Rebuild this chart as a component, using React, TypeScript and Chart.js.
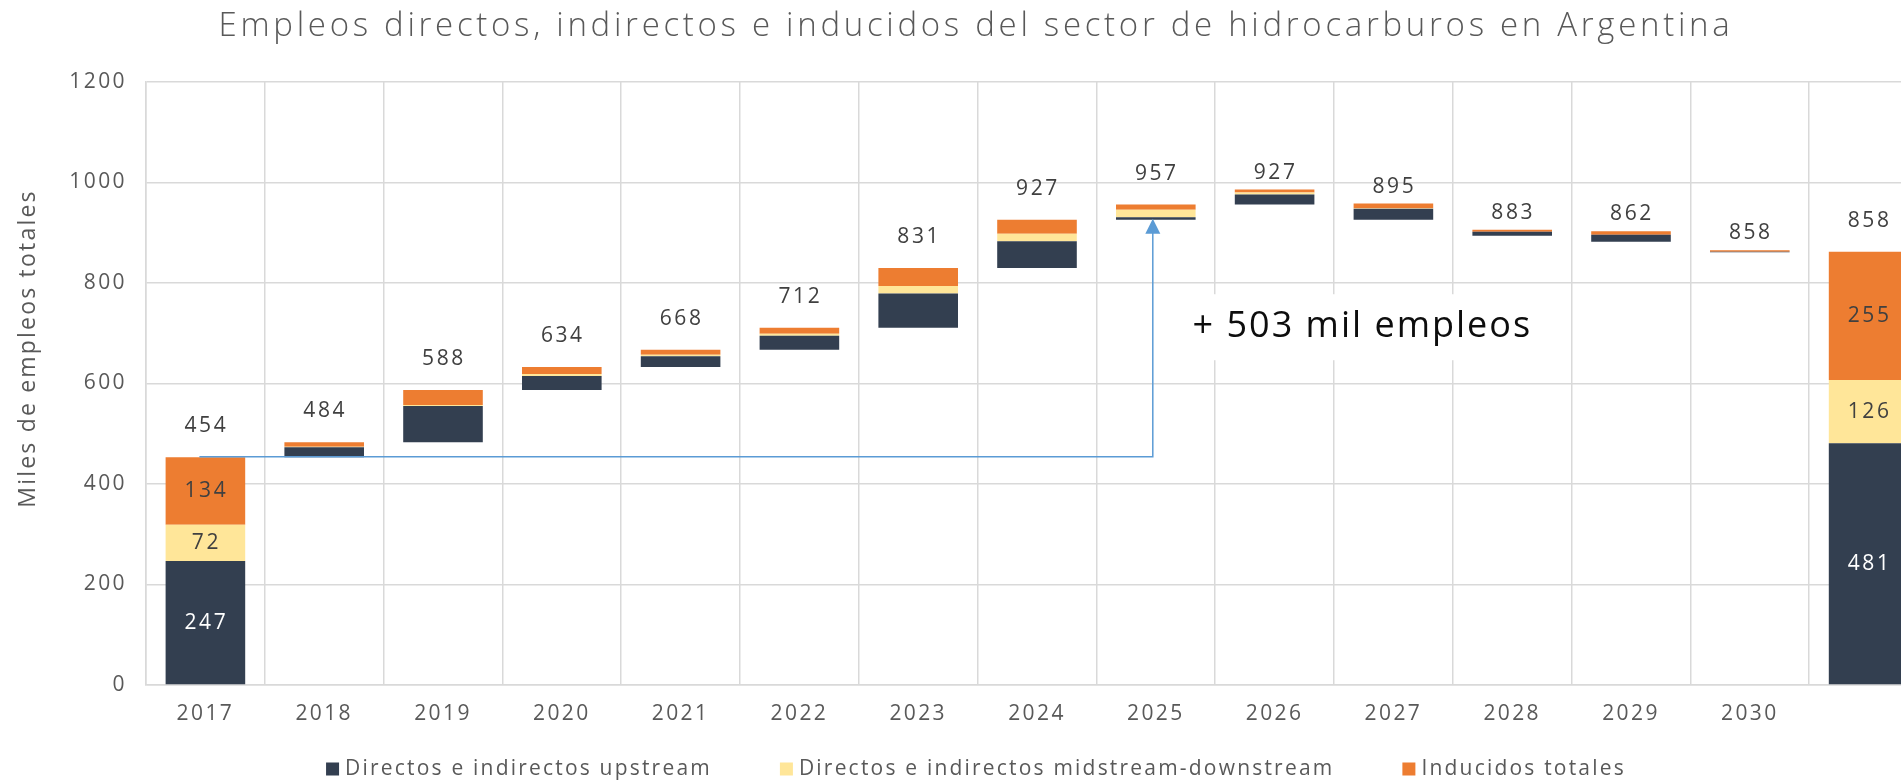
import React, { useEffect, useRef } from "react";
import { Chart, registerables } from "chart.js";

Chart.register(...registerables);

const categories = ["2017", "2018", "2019", "2020", "2021", "2022", "2023", "2024", "2025", "2026", "2027", "2028", "2029", "2030", ""];
// First and last entries are absolute stacks; the rest are year-on-year changes
const upstream = [247, 20, 72, 28, 21, 28, 68, 53, 5, -20, -22, -8, -14, -1, 481];
const midstream = [72, 1, 2, 4, 3, 4, 15, 15, 15, -4, -1, 0, 0, 0, 126];
const induced = [134, 9, 30, 14, 10, 12, 36, 28, 10, -6, -9, -4, -7, -3, 255];
const totalLabels = [454, 484, 588, 634, 668, 712, 831, 927, 957, 927, 895, 883, 862, 858, 858];
const yTicks = [0, 200, 400, 600, 800, 1000, 1200];
const seriesNames = [
  "Directos e indirectos upstream",
  "Directos e indirectos midstream-downstream",
  "Inducidos totales",
];
const seriesColors = ["#333F50", "#FFE699", "#ED7D31"];
const insideLabelColors = ["#FFFFFF", "#404040", "#404040"];

const TITLE = "Empleos directos, indirectos e inducidos del sector de hidrocarburos en Argentina";
const Y_TITLE = "Miles de empleos totales";
const FONT = "'Open Sans', 'DejaVu Sans', sans-serif";

// Build floating ranges for the waterfall
const series = [upstream, midstream, induced];
const n = categories.length;
const ranges: [number, number][][] = [[], [], []];
const bases: number[] = [];
const tops: number[] = [];
const decreasing: boolean[] = [];
let running = 0;
for (let i = 0; i < n; i++) {
  const absolute = i === 0 || i === n - 1;
  const base = absolute ? 0 : running;
  bases.push(base);
  let cur = base;
  let delta = 0;
  for (let s = 0; s < 3; s++) {
    const v = series[s][i];
    delta += v;
    const h = Math.abs(v);
    ranges[s].push([cur, cur + h]);
    cur += h;
  }
  tops.push(cur);
  decreasing.push(!absolute && delta < 0);
  if (i === 0) running = delta;
  else if (!absolute) running += delta;
}
let peakIndex = 0;
totalLabels.forEach((v, i) => {
  if (i < n - 1 && v > totalLabels[peakIndex]) peakIndex = i;
});
const gain = totalLabels[peakIndex] - totalLabels[0];

const overlayPlugin = {
  id: "overlay",
  beforeDraw(chart: any) {
    chart.ctx.letterSpacing = "2.4px";
  },
  afterDatasetsDraw(chart: any) {
    const { ctx } = chart;
    const xs = chart.scales.x;
    const ys = chart.scales.y;
    ctx.save();

    // connector arrow
    const x0 = xs.getPixelForValue(0) - 6;
    const x1 = xs.getPixelForValue(peakIndex) - 3;
    const yStart = ys.getPixelForValue(totalLabels[0]);
    const yEnd = ys.getPixelForValue(bases[peakIndex]) - 1;
    ctx.strokeStyle = "#5B9BD5";
    ctx.fillStyle = "#5B9BD5";
    ctx.lineWidth = 1.5;
    ctx.beginPath();
    ctx.moveTo(x0, yStart);
    ctx.lineTo(x1, yStart);
    ctx.lineTo(x1, yEnd + 14);
    ctx.stroke();
    ctx.beginPath();
    ctx.moveTo(x1, yEnd);
    ctx.lineTo(x1 - 7.5, yEnd + 15);
    ctx.lineTo(x1 + 7.5, yEnd + 15);
    ctx.closePath();
    ctx.fill();

    // annotation
    const annText = `+ ${gain} mil empleos`;
    ctx.font = `36px ${FONT}`;
    ctx.letterSpacing = "2px";
    const tw = ctx.measureText(annText).width;
    const ax = xs.getPixelForValue(9.73);
    const ay = ys.getPixelForValue(712);
    ctx.fillStyle = "#FFFFFF";
    ctx.fillRect(ax - tw / 2 - 20, ay - 33, tw + 40, 66);
    ctx.fillStyle = "#0D0D0D";
    ctx.textAlign = "center";
    ctx.textBaseline = "middle";
    ctx.fillText(annText, ax + 1, ay);

    // total labels
    ctx.font = `21px ${FONT}`;
    ctx.letterSpacing = "2.6px";
    ctx.fillStyle = "#404040";
    for (let i = 0; i < n; i++) {
      const px = xs.getPixelForValue(i) + 1;
      const py = ys.getPixelForValue(tops[i]) - (decreasing[i] ? 17 : 31);
      ctx.fillText(String(totalLabels[i]), px, py);
    }
    // inside labels for absolute stacks
    [0, n - 1].forEach((i) => {
      const px = xs.getPixelForValue(i) + 1;
      for (let s = 0; s < 3; s++) {
        const [lo, hi] = ranges[s][i];
        const py = ys.getPixelForValue((lo + hi) / 2);
        ctx.fillStyle = insideLabelColors[s];
        ctx.fillText(String(series[s][i]), px, py);
      }
    });
    ctx.restore();
  },
  afterDraw(chart: any) {
    const { ctx, chartArea, width } = chart;
    ctx.save();
    // title
    ctx.font = `300 33px ${FONT}`;
    ctx.letterSpacing = "3.7px";
    ctx.fillStyle = "#595959";
    ctx.textAlign = "center";
    ctx.textBaseline = "middle";
    ctx.fillText(TITLE, width / 2, 27);

    // y title
    ctx.save();
    ctx.translate(28, (chartArea.top + chartArea.bottom) / 2 - 35);
    ctx.rotate(-Math.PI / 2);
    ctx.font = `23px ${FONT}`;
    ctx.letterSpacing = "2.2px";
    ctx.fillText(Y_TITLE, 0, 0);
    ctx.restore();

    // legend
    ctx.font = `21px ${FONT}`;
    ctx.letterSpacing = "2.2px";
    const box = 13;
    const gapBox = 6;
    const gapItem = 68;
    const widths = seriesNames.map((s) => ctx.measureText(s).width);
    const total = widths.reduce((a, w) => a + box + gapBox + w, 0) + gapItem * (seriesNames.length - 1);
    let lx = width / 2 - total / 2;
    const ly = 769;
    ctx.textAlign = "left";
    seriesNames.forEach((s, k) => {
      ctx.fillStyle = seriesColors[k];
      ctx.fillRect(lx, ly - box / 2, box, box);
      ctx.fillStyle = "#595959";
      ctx.fillText(s, lx + box + gapBox, ly);
      lx += box + gapBox + widths[k] + gapItem;
    });
    ctx.restore();
  },
};

export default function App() {
  const ref = useRef<HTMLCanvasElement>(null);
  useEffect(() => {
    const prevMargin = document.body.style.margin;
    const prevOverflow = document.documentElement.style.overflow;
    document.body.style.margin = "0";
    document.documentElement.style.overflow = "hidden";
    const canvas = ref.current!;
    const chart = new Chart(canvas, {
      type: "bar",
      data: {
        labels: categories,
        datasets: seriesNames.map((name, s) => ({
          label: name,
          data: ranges[s],
          backgroundColor: seriesColors[s],
          borderWidth: 0,
          barPercentage: 0.67,
          categoryPercentage: 1,
        })),
      },
      options: {
        responsive: false,
        animation: false,
        devicePixelRatio: 1,
        layout: { padding: { top: 82, right: 24, bottom: 0, left: 0 } },
        plugins: {
          legend: { display: false },
          title: { display: false },
          tooltip: { enabled: false },
        },
        scales: {
          x: {
            stacked: true,
            grid: { color: "#D9D9D9", lineWidth: 1.5, drawTicks: false, offset: true },
            border: { color: "#D9D9D9", width: 1.5 },
            ticks: {
              color: "#595959",
              font: { family: FONT, size: 21 },
              padding: 16,
              maxRotation: 0,
              autoSkip: false,
            },
            afterFit: (s: any) => {
              s.height = 95;
            },
          },
          y: {
            min: 0,
            max: 1200,
            afterBuildTicks: (s: any) => {
              s.ticks = yTicks.map((v) => ({ value: v }));
            },
            grid: { color: "#D9D9D9", lineWidth: 1.5, drawTicks: false },
            border: { color: "#D9D9D9", width: 1.5 },
            ticks: {
              color: "#595959",
              font: { family: FONT, size: 21 },
              padding: 19,
              callback: (v: any) => String(v),
            },
            afterFit: (s: any) => {
              s.width = 146;
            },
          },
        },
      },
      plugins: [overlayPlugin],
    });
    return () => {
      chart.destroy();
      document.body.style.margin = prevMargin;
      document.documentElement.style.overflow = prevOverflow;
    };
  }, []);
  return (
    <div style={{ width: 1901, height: 780, overflow: "hidden", position: "relative" }}>
      <canvas ref={ref} width={1952} height={780} style={{ display: "block", width: 1952, height: 780 }} />
    </div>
  );
}
